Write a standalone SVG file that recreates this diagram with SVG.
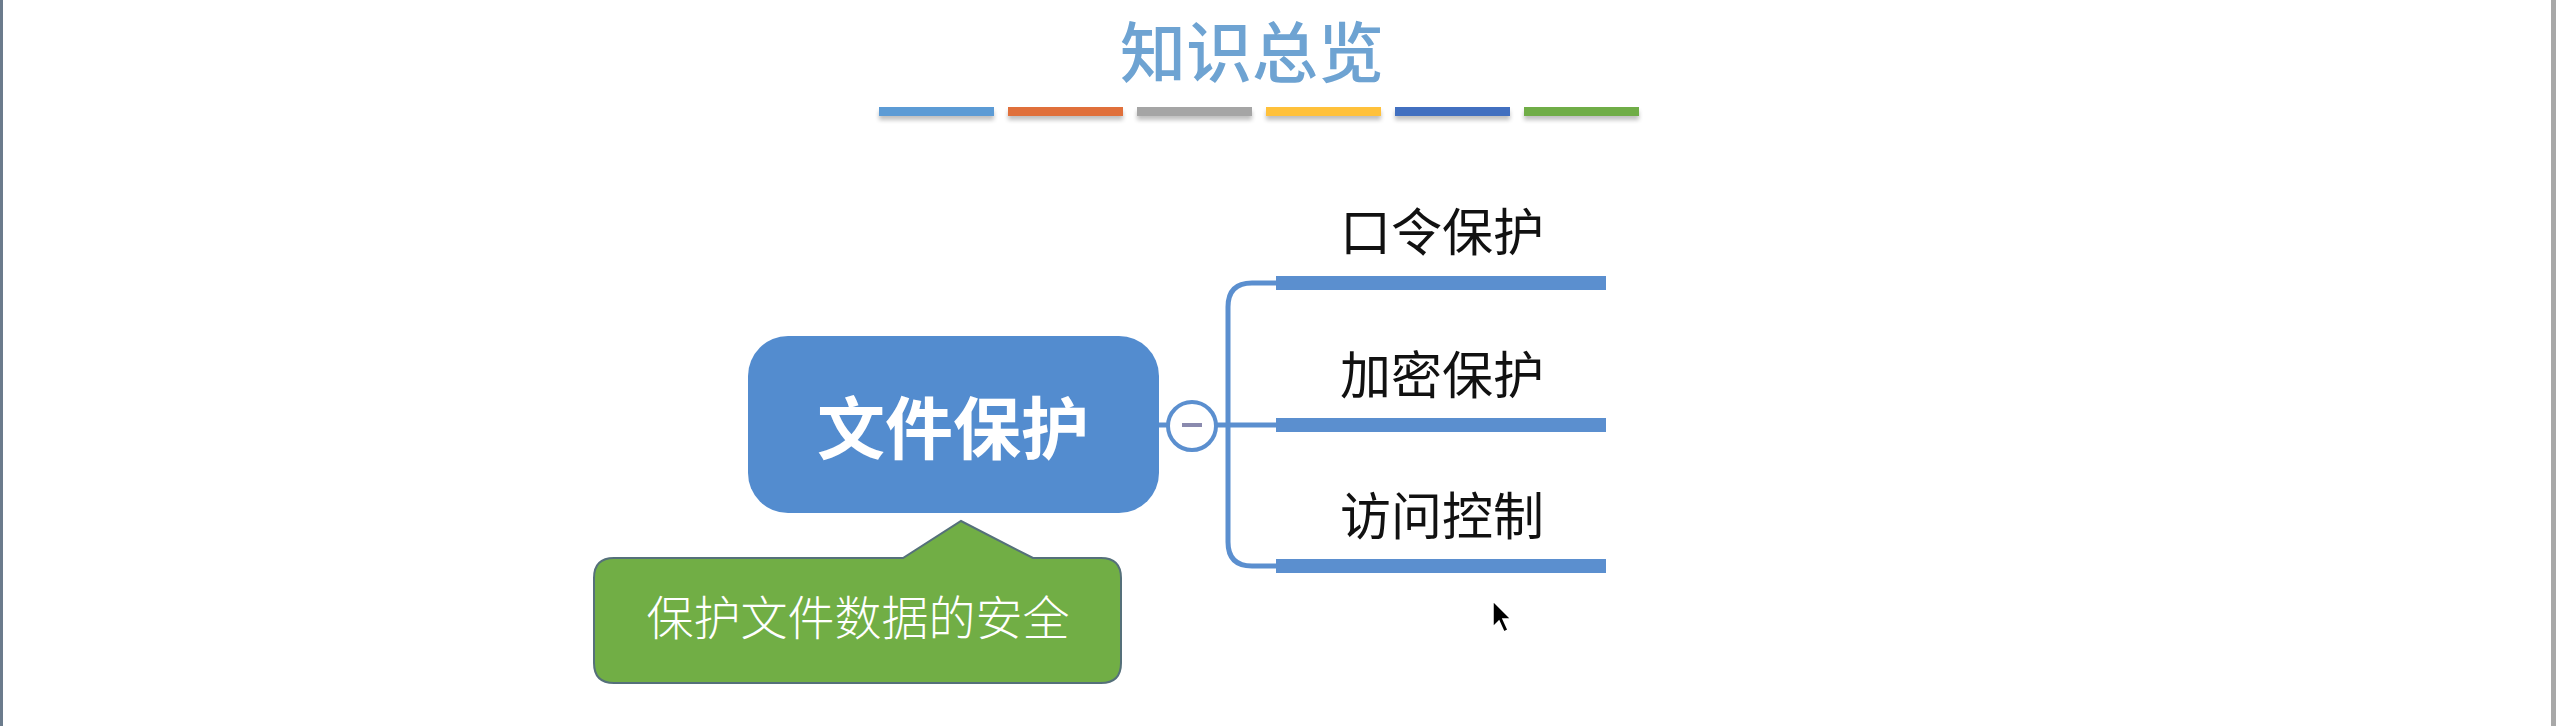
<svg xmlns="http://www.w3.org/2000/svg" width="2556" height="726" viewBox="0 0 2556 726">
  <defs>
    <style>
      .cjk { font-family: "Noto Sans CJK SC", "Noto Sans", sans-serif; }
      .thin { fill: none; stroke: #5b8fcf; stroke-width: 5; stroke-linecap: round; }
      .thick { stroke: #5b8fcf; stroke-width: 14; }
      .label { font-size: 51px; fill: #111111; text-anchor: middle; font-weight: 400; }
    </style>
    <filter id="sh" x="-10%" y="-50%" width="120%" height="250%">
      <feGaussianBlur in="SourceAlpha" stdDeviation="2"/>
      <feOffset dy="4"/>
      <feComponentTransfer><feFuncA type="linear" slope="0.25"/></feComponentTransfer>
      <feMerge><feMergeNode/><feMergeNode in="SourceGraphic"/></feMerge>
    </filter>
  </defs>

  <rect x="0" y="0" width="2556" height="726" fill="#ffffff"/>
  <rect x="0" y="0" width="3" height="726" fill="#6b7b8c"/>
  <rect x="2551" y="0" width="5" height="726" fill="#a8a8a8"/>

  <g id="title">
    <text x="1252" y="77" class="cjk" font-size="66" fill="#6ea3d2" text-anchor="middle" font-weight="500">知识总览</text>
    <g filter="url(#sh)">
      <rect x="879" y="107" width="115" height="9" fill="#5b9bd5"/>
      <rect x="1008" y="107" width="115" height="9" fill="#e0703a"/>
      <rect x="1137" y="107" width="115" height="9" fill="#a5a5a5"/>
      <rect x="1266" y="107" width="115" height="9" fill="#ffc13a"/>
      <rect x="1395" y="107" width="115" height="9" fill="#4270c0"/>
      <rect x="1524" y="107" width="115" height="9" fill="#70ad47"/>
    </g>
  </g>

  <g id="connectors">
    <line x1="1158" y1="425" x2="1168" y2="425" class="thin" stroke-width="4"/>
    <line x1="1216" y1="425" x2="1278" y2="425" class="thin"/>
    <path d="M1278 283 H1252 Q1228 283 1228 307 V542 Q1228 566 1252 566 H1278" class="thin"/>
    <line x1="1276" y1="283" x2="1606" y2="283" class="thick"/>
    <line x1="1276" y1="425" x2="1606" y2="425" class="thick"/>
    <line x1="1276" y1="566" x2="1606" y2="566" class="thick"/>
  </g>

  <g id="root">
    <rect x="748" y="336" width="411" height="177" rx="40" ry="40" fill="#538ccf"/>
    <text x="953" y="454" class="cjk" font-size="68" font-weight="700" fill="#ffffff" text-anchor="middle">文件保护</text>
  </g>

  <g id="collapse">
    <circle cx="1192" cy="426" r="24" fill="#ffffff" stroke="#5b8fcf" stroke-width="4"/>
    <line x1="1182" y1="425" x2="1202" y2="425" stroke="#8a8aae" stroke-width="4"/>
  </g>

  <g id="node-password">
    <text x="1442" y="251" class="cjk label">口令保护</text>
  </g>
  <g id="node-encrypt">
    <text x="1442" y="394" class="cjk label">加密保护</text>
  </g>
  <g id="node-access">
    <text x="1442" y="535" class="cjk label">访问控制</text>
  </g>

  <g id="callout">
    <path d="M614 558 H903 L961 521 L1033 558 H1101 Q1121 558 1121 578 V663 Q1121 683 1101 683 H614 Q594 683 594 663 V578 Q594 558 614 558 Z" fill="#71ae45" stroke="#55707a" stroke-width="2"/>
    <text x="858" y="635" class="cjk" font-size="47" font-weight="300" fill="#ffffff" text-anchor="middle">保护文件数据的安全</text>
  </g>

  <g id="cursor">
    <path d="M1493 601 L1493 627 L1499 621 L1504 632 L1508 630 L1503 619 L1511 619 Z" fill="#000000" stroke="#ffffff" stroke-width="1.5"/>
  </g>
</svg>
